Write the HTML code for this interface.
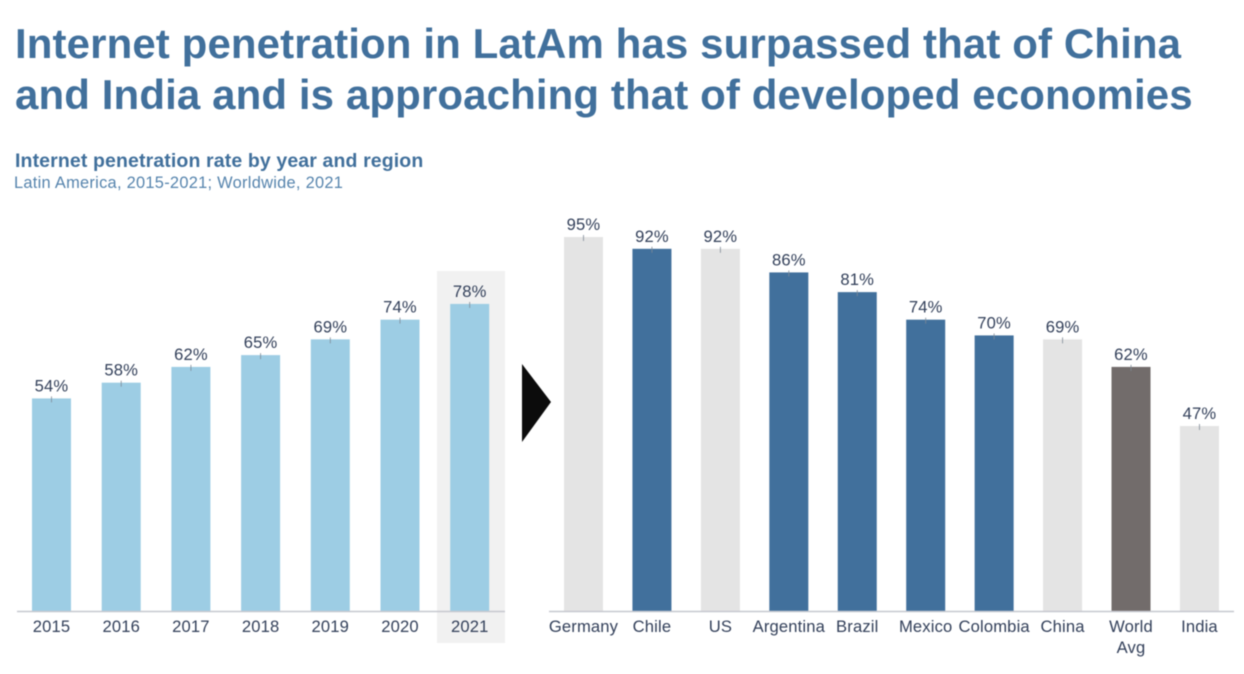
<!DOCTYPE html>
<html lang="en">
<head>
<meta charset="utf-8">
<title>Internet penetration in LatAm</title>
<style>
html,body{margin:0;padding:0;background:#fff;}
body{width:1244px;height:674px;overflow:hidden;position:relative;}
svg{position:absolute;left:0;top:0;filter:blur(0.45px);}
text{font-family:"Liberation Sans",Arial,sans-serif;}
</style>
</head>
<body>
<svg id="chart" width="1244" height="674" viewBox="0 0 1244 674">
  <text x="15" y="58" font-size="42" font-weight="700" letter-spacing="0.11" fill="#41709c">Internet penetration in LatAm has surpassed that of China</text>
  <text x="15" y="109" font-size="42" font-weight="700" letter-spacing="0.11" fill="#41709c">and India and is approaching that of developed economies</text>
  <text x="15" y="167" font-size="19.5" font-weight="700" letter-spacing="0.12" fill="#41709c">Internet penetration rate by year and region</text>
  <text x="14" y="188" font-size="16.4" letter-spacing="0.28" fill="#5684ad">Latin America, 2015-2021; Worldwide, 2021</text>
  <rect x="437" y="271" width="68" height="372" fill="#f1f1f1"></rect>
  <polygon points="522,364 522,442 551,402" fill="#0c0c0c"></polygon>
  <g id="left-chart"></g>
  <g id="right-chart"></g>
</svg>
<script>
var yearCategories = ["2015","2016","2017","2018","2019","2020","2021"];
var yearValues = [54,58,62,65,69,74,78];
var regionCategories = ["Germany","Chile","US","Argentina","Brazil","Mexico","Colombia","China","World|Avg","India"];
var regionValues = [95,92,92,86,81,74,70,69,62,47];
var regionGroups = ["peer","latam","peer","latam","latam","latam","latam","peer","world","peer"];

var NS = "http://www.w3.org/2000/svg";
var BASELINE = 611;
var PX_PER_PERCENT = 374 / 95;
var BAR_WIDTH = 39;
var GROUP_COLORS = {peer:"#e4e4e4", latam:"#41709c", world:"#726c6b", year:"#9dcde4"};

function yScale(v){ return BASELINE - v * PX_PER_PERCENT; }
function xLeft(i){ return 51.5 + i * 69.7; }
function xRight(i){ return 583.5 + i * 68.44; }

function make(tag, attrs, parent){
  var el = document.createElementNS(NS, tag);
  for (var k in attrs) el.setAttribute(k, attrs[k]);
  parent.appendChild(el);
  return el;
}

function drawChart(parent, cats, vals, xFn, colorFn, axisFrom, axisTo){
  vals.forEach(function(v, i){
    var cx = xFn(i), y = yScale(v);
    var bar = make("rect", {x: cx - BAR_WIDTH / 2, y: y, width: BAR_WIDTH, height: BASELINE - y, fill: colorFn(i)}, parent);
    
    

    var tick = make("line", {x1: cx, x2: cx, y1: y - 2, y2: y + 4, stroke: "#7f8a96", "stroke-width": 0.8}, parent);
    
    

    var label = make("text", {x: cx, y: y - 7, "text-anchor": "middle", "font-size": 16.6, "letter-spacing": 0.15, fill: "#33405a"}, parent);
    label.textContent = v + "%";
    
    

    cats[i].split("|").forEach(function(line, n){
      var cat = make("text", {x: cx, y: 632 + n * 21, "text-anchor": "middle", "font-size": 16.6, "letter-spacing": 0.15, fill: "#33405a"}, parent);
      cat.textContent = line;
      
      
    });
  });
  var axis = make("line", {x1: axisFrom, x2: axisTo, y1: BASELINE + 0.5, y2: BASELINE + 0.5, stroke: "#c6c8cf", "stroke-width": 1.4}, parent);
  
  
}

drawChart(document.getElementById("left-chart"), yearCategories, yearValues, xLeft,
  function(){ return GROUP_COLORS.year; }, 17, 505);
drawChart(document.getElementById("right-chart"), regionCategories, regionValues, xRight,
  function(i){ return GROUP_COLORS[regionGroups[i]]; }, 549, 1234);
</script>
</body>
</html>
